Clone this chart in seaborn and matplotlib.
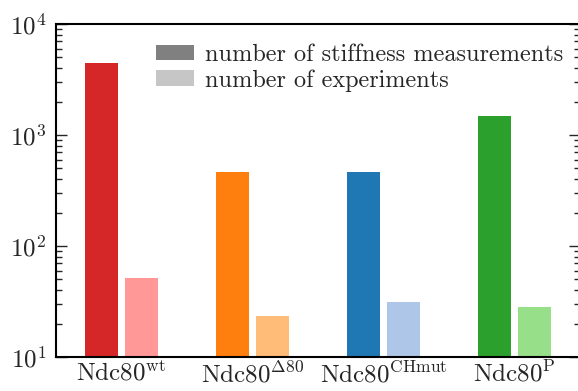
import matplotlib
matplotlib.use("Agg")
import matplotlib.pyplot as plt
import seaborn as sns
import numpy as np
import pandas as pd
from matplotlib.patches import Patch

groups = ["wt", "d80", "CHmut", "P"]
tick_labels = [r"Ndc80$^{\rm wt}$", r"Ndc80$^{\Delta 80}$",
               r"Ndc80$^{\rm CHmut}$", r"Ndc80$^{\rm P}$"]
stiffness_counts = [4450, 465, 465, 1480]
experiment_counts = [52, 23.5, 31.5, 28.5]
dark_colors = ["#d62728", "#ff7f0e", "#1f77b4", "#2ca02c"]
light_colors = ["#ff9896", "#ffbb78", "#aec7e8", "#98df8a"]
legend_labels = ["number of stiffness measurements", "number of experiments"]
legend_colors = ["#808080", "#c6c6c6"]

sns.set_theme(style="ticks")
plt.rcParams.update({
    "font.family": "serif",
    "font.serif": ["cmr10"],
    "mathtext.fontset": "cm",
    "axes.formatter.use_mathtext": True,
    "font.size": 16,
    "axes.linewidth": 1.5,
    "axes.edgecolor": "black",
})

fig = plt.figure(figsize=(5.78, 3.91), dpi=100)
ax = fig.add_axes([56 / 578, 34 / 391, 524 / 578, 333 / 391])
ax.set_yscale("log")

pos = np.arange(len(groups))
offset = 0.153
width = 0.252
df_dark = pd.DataFrame({"x": pos - offset, "y": stiffness_counts, "g": groups})
df_light = pd.DataFrame({"x": pos + offset, "y": experiment_counts, "g": groups})

sns.barplot(data=df_dark, x="x", y="y", hue="g", palette=dict(zip(groups, dark_colors)),
            native_scale=True, width=width, dodge=False, legend=False, ax=ax,
            linewidth=0, saturation=1)
sns.barplot(data=df_light, x="x", y="y", hue="g", palette=dict(zip(groups, light_colors)),
            native_scale=True, width=width, dodge=False, legend=False, ax=ax,
            linewidth=0, saturation=1)

ax.set_xlim(-0.5, 3.5)
ax.set_ylim(10, 1e4)
ax.set_xticks(pos)
ax.set_xticklabels(tick_labels, fontsize=18)
ax.set_xlabel("")
ax.set_ylabel("")
ax.tick_params(axis="x", length=0, pad=3)
ax.tick_params(axis="y", which="major", direction="in", length=8, width=1,
               right=True, left=True, pad=7, labelsize=18)
ax.tick_params(axis="y", which="minor", direction="in", length=4.3, width=1,
               right=True, left=True)
for s in ax.spines.values():
    s.set_visible(True)
    s.set_linewidth(1.5)
    s.set_color("black")
ax.spines["right"].set_visible(False)

handles = [Patch(facecolor=c, edgecolor="none") for c in legend_colors]
fig.legend(handles, legend_labels, loc="upper left", bbox_to_anchor=(156 / 578, 1 - 44 / 391),
           frameon=False, fontsize=17.5, handlelength=1.56, handleheight=0.62,
           handletextpad=0.45, labelspacing=0.13, borderpad=0, borderaxespad=0)

fig.savefig("out.png", dpi=100)
